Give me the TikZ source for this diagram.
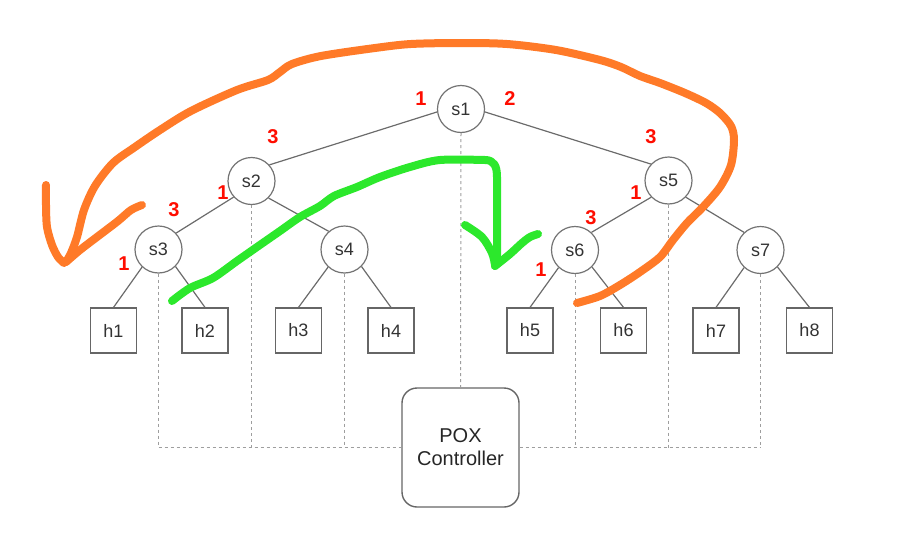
\documentclass[tikz,border=0pt]{standalone}
\usepackage{fontspec}
\setmainfont{Liberation Sans}
\begin{document}
\begin{tikzpicture}[x=1pt,y=-1pt,
  sw/.style={circle,draw=black!55,line width=1.2pt,inner sep=0pt,minimum size=47pt,
    text=black!80,font=\fontsize{18}{20}\selectfont},
  host/.style={rectangle,draw=black!60,line width=1.2pt,inner sep=0pt,minimum width=46pt,
    minimum height=45pt,text=black!80,font=\fontsize{18}{20}\selectfont},
  ctrlbox/.style={rectangle,rounded corners=15pt,draw=black!60,line width=1.4pt,
    minimum width=117pt,minimum height=119pt,align=center,text=black!85,
    font=\fontsize{20}{23}\selectfont},
  link/.style={draw=black!58,line width=1.2pt},
  ctl/.style={draw=black!38,line width=1pt,dash pattern=on 3pt off 3pt},
  port/.style={text=red!90!orange,font=\bfseries\fontsize{20}{22}\selectfont,inner sep=0pt},
  orangepen/.style={draw={rgb,255:red,255;green,122;blue,40},line width=8pt,line cap=round,line join=round},
  greenpen/.style={draw={rgb,255:red,44;green,232;blue,44},line width=8pt,line cap=round,line join=round}
]
\useasboundingbox (0,0) rectangle (911,549);

% switches
\node[sw] (s1) at (461,109) {s1};
\node[sw] (s2) at (251.5,181) {s2};
\node[sw] (s5) at (668.5,180.5) {s5};
\node[sw] (s3) at (158.5,249.5) {s3};
\node[sw] (s4) at (344.5,249.5) {s4};
\node[sw] (s6) at (575,250) {s6};
\node[sw] (s7) at (760.5,250) {s7};

% hosts
\node[host] (h1) at (113.5,330.5) {h1};
\node[host] (h2) at (205,330.5) {h2};
\node[host] (h3) at (298.5,330.5) {h3};
\node[host] (h4) at (391,330.5) {h4};
\node[host] (h5) at (530,330.5) {h5};
\node[host] (h6) at (623.5,330.5) {h6};
\node[host] (h7) at (716,330.5) {h7};
\node[host] (h8) at (809.5,330.5) {h8};

% controller
\node[ctrlbox] (ctrl) at (460.5,447.5) {POX\\Controller};

% tree links
\draw[link] (s1.187) -- (s2.42);
\draw[link] (s1.353) -- (s5.137);
\draw[link] (s2.222) -- (s3.43);
\draw[link] (s2.315) -- (s4.131);
\draw[link] (s5.224) -- (s6.47);
\draw[link] (s5.316) -- (s7.133);
\foreach \s/\a/\b in {s3/h1/h2,s4/h3/h4,s6/h5/h6,s7/h7/h8}{
  \draw[link] (\s.227) -- (\a.north);
  \draw[link] (\s.315) -- (\b.north);
}

% control network
\coordinate (busL) at (158.5,447.5);
\coordinate (busR) at (760.5,447.5);
\draw[ctl] (s1.south) -- (ctrl.north);
\draw[ctl] (busL) -- (ctrl.west);
\draw[ctl] (ctrl.east) -- (busR);
\foreach \s in {s2,s3,s4,s5,s6,s7}{
  \draw[ctl] (\s.south) -- (\s.south |- ctrl.west);
}

% port labels
\node[port] at (421,99) {1};
\node[port] at (510,99) {2};
\node[port] at (273,137) {3};
\node[port] at (651,137) {3};
\node[port] at (223,193) {1};
\node[port] at (174,210) {3};
\node[port] at (124,264) {1};
\node[port] at (636,193) {1};
\node[port] at (591,218) {3};
\node[port] at (541,270) {1};

% orange hand-drawn arrow
\draw[orangepen] plot[smooth,tension=0.5] coordinates {
  (577,303) (600,296) (620,285) (640,272) (660,257) (673,240) (687,223) (703,207)
  (720,187) (731,165) (734,140) (731,126) (720,113) (706,103) (685,93) (660,83)
  (640,76) (621,67) (600,60) (556,50) (507,44) (460,43) (411,44) (375,48)
  (321,56) (292,64) (280,72) (268,80) (237,90) (191,111) (160,130) (135,147)
  (113,163) (95,186) (84,210) (77,237) (71,253) (66,262)};
\draw[orangepen] plot[smooth,tension=0.5] coordinates {
  (46,185) (46,205) (47,227) (52,245) (58,257) (64,263)};
\draw[orangepen] plot[smooth,tension=0.5] coordinates {
  (66,262) (80,250) (97,237) (118,221) (131,210) (142,205)};

% green hand-drawn arrow
\draw[greenpen] plot[smooth,tension=0.5] coordinates {
  (172,301) (190,288) (213,278) (237,261) (257,247) (280,231) (300,217) (320,206)
  (334,196) (357,187) (380,177) (410,167) (440,160) (485,160)};
\draw[greenpen] (485,160) .. controls (494,160) and (497,166) .. (497,177) -- (497,255) -- (495,266);
\draw[greenpen] plot[smooth,tension=0.5] coordinates {
  (465,225) (482,237) (492,253) (495,265)};
\draw[greenpen] plot[smooth,tension=0.5] coordinates {
  (495,266) (510,254) (522,243) (530,237) (538,234)};
\end{tikzpicture}
\end{document}
